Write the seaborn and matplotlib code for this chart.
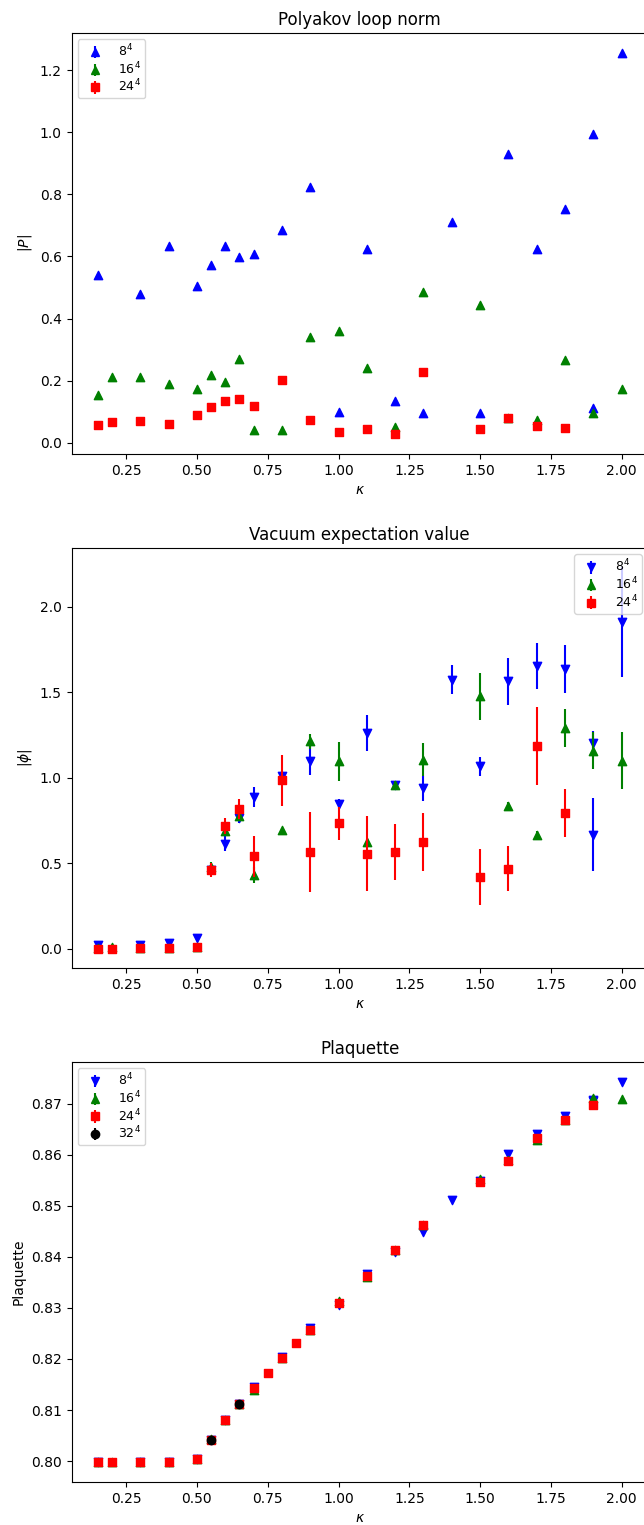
import numpy as np
import pandas as pd
import matplotlib
matplotlib.use("Agg")
import matplotlib.pyplot as plt
import seaborn as sns
from matplotlib.container import ErrorbarContainer
from matplotlib.lines import Line2D
from matplotlib.collections import LineCollection

# ---- hopping parameter grids per lattice size ----
kappa_8 = [0.15, 0.3, 0.4, 0.5, 0.55, 0.6, 0.65, 0.7, 0.8, 0.9, 1.0, 1.1,
           1.2, 1.3, 1.4, 1.5, 1.6, 1.7, 1.8, 1.9, 1.9, 2.0]
kappa_16 = [0.15, 0.2, 0.3, 0.4, 0.5, 0.55, 0.6, 0.65, 0.7, 0.8, 0.9, 1.0,
            1.1, 1.2, 1.3, 1.5, 1.6, 1.7, 1.8, 1.9, 2.0]
kappa_24 = [0.15, 0.2, 0.3, 0.4, 0.5, 0.55, 0.6, 0.65, 0.7, 0.8, 0.9, 1.0,
            1.1, 1.2, 1.3, 1.5, 1.6, 1.7, 1.8]
kappa_24_plaq = [0.15, 0.2, 0.3, 0.4, 0.5, 0.55, 0.6, 0.65, 0.7, 0.75, 0.8,
                 0.85, 0.9, 1.0, 1.1, 1.2, 1.3, 1.5, 1.6, 1.7, 1.8, 1.9]
kappa_32 = [0.55, 0.65]

# ---- Polyakov loop norm |P| ----
poly_8 = [0.540, 0.480, 0.633, 0.504, 0.574, 0.633, 0.598, 0.607, 0.686, 0.824,
          0.099, 0.624, 0.134, 0.097, 0.710, 0.094, 0.932, 0.623, 0.753, 0.994,
          0.110, 1.255]
poly_8_err = [0.004] * len(poly_8)
poly_16 = [0.153, 0.211, 0.211, 0.190, 0.172, 0.217, 0.196, 0.268, 0.040, 0.040,
           0.339, 0.359, 0.241, 0.051, 0.484, 0.443, 0.079, 0.072, 0.265, 0.097,
           0.172]
poly_16_err = [0.004] * len(poly_16)
poly_24 = [0.056, 0.067, 0.069, 0.060, 0.088, 0.116, 0.135, 0.141, 0.118, 0.202,
           0.072, 0.034, 0.043, 0.029, 0.228, 0.043, 0.080, 0.054, 0.048]
poly_24_err = [0.004] * len(poly_24)

# ---- vacuum expectation value |phi| ----
vev_8 = [0.020, 0.020, 0.035, 0.065, 0.458, 0.614, 0.764, 0.887, 1.008, 1.099,
         0.846, 1.261, 0.959, 0.937, 1.573, 1.066, 1.563, 1.651, 1.635, 1.203,
         0.667, 1.910]
vev_8_err = [0.005, 0.005, 0.005, 0.008, 0.030, 0.046, 0.030, 0.058, 0.030, 0.086,
             0.030, 0.104, 0.020, 0.073, 0.083, 0.057, 0.136, 0.133, 0.140, 0.070,
             0.211, 0.320]
vev_16 = [0.005, 0.008, 0.005, 0.005, 0.008, 0.475, 0.686, 0.774, 0.430, 0.696,
          1.212, 1.094, 0.622, 0.959, 1.105, 1.475, 0.836, 0.667, 1.290, 1.158,
          1.099]
vev_16_err = [0.003, 0.003, 0.003, 0.003, 0.003, 0.030, 0.020, 0.020, 0.045, 0.010,
              0.045, 0.115, 0.020, 0.020, 0.097, 0.136, 0.020, 0.020, 0.112, 0.107,
              0.167]
vev_24 = [0.000, 0.000, 0.002, 0.003, 0.012, 0.460, 0.719, 0.817, 0.540, 0.984,
          0.565, 0.733, 0.554, 0.563, 0.624, 0.419, 0.468, 1.183, 0.793]
vev_24_err = [0.002, 0.002, 0.002, 0.003, 0.005, 0.040, 0.047, 0.060, 0.120, 0.150,
              0.234, 0.095, 0.219, 0.164, 0.168, 0.165, 0.132, 0.229, 0.138]

# ---- average plaquette ----
plaq_8 = [0.79975, 0.79978, 0.79975, 0.80040, 0.80410, 0.80810, 0.81110, 0.81460,
          0.82030, 0.82600, 0.83060, 0.83660, 0.84090, 0.84490, 0.85110, 0.85490,
          0.86010, 0.86400, 0.86750, 0.87070, 0.87060, 0.87430]
plaq_16 = [0.79976, 0.79976, 0.79976, 0.79987, 0.80040, 0.80430, 0.80800, 0.81120,
           0.81400, 0.82010, 0.82570, 0.83130, 0.83600, 0.84140, 0.84630, 0.85520,
           0.85890, 0.86280, 0.86680, 0.87110, 0.87080]
plaq_24 = [0.79975, 0.79975, 0.79975, 0.79987, 0.80040, 0.80420, 0.80800, 0.81120,
           0.81428, 0.81727, 0.82014, 0.82308, 0.82575, 0.83100, 0.83622, 0.84130,
           0.84620, 0.85470, 0.85880, 0.86320, 0.86670, 0.86980]
plaq_32 = [0.80420, 0.81120]
plaq_err = 0.0001

labels = ["$8^4$", "$16^4$", "$24^4$", "$32^4$"]
colors = ["blue", "green", "red", "black"]


def frame(kappa, value, err, label):
    return pd.DataFrame({"kappa": kappa, "value": value,
                         "err": np.broadcast_to(err, len(kappa)), "lattice": label})


def legend_proxy(marker, color):
    line = Line2D([], [], linestyle="none", marker=marker, color=color,
                  markersize=6)
    bars = LineCollection([], colors=color, linewidths=1.5)
    return ErrorbarContainer((line, (), (bars,)), has_xerr=False, has_yerr=True)


def draw_panel(ax, series, title, ylabel, legend_loc):
    handles = []
    for i, (df, marker, color) in enumerate(series):
        ax.errorbar(df["kappa"], df["value"], yerr=df["err"], fmt="none",
                    ecolor=color, elinewidth=1.5, zorder=2 + 2 * i)
        sns.scatterplot(data=df, x="kappa", y="value", marker=marker,
                        color=color, edgecolor=color, linewidth=1.0, s=36,
                        ax=ax, legend=False, zorder=3 + 2 * i)
        handles.append(legend_proxy(marker, color))
    ax.set_title(title, fontsize=12)
    ax.set_xlabel(r"$\kappa$")
    ax.set_ylabel(ylabel)
    ax.legend(handles, [df["lattice"].iloc[0] for df, _, _ in series],
              loc=legend_loc, fontsize=9, labelspacing=0.08,
              handlelength=2.1, handletextpad=0.85, borderpad=0.3)


fig = plt.figure(figsize=(6.44, 15.25), dpi=100)
left, width = 71.5 / 644, 576.5 / 644
ax1 = fig.add_axes([left, 0.7023, width, 0.2761])
ax2 = fig.add_axes([left, 0.3652, width, 0.2754])
ax3 = fig.add_axes([left, 0.0282, width, 0.2754])

draw_panel(ax1, [
    (frame(kappa_8, poly_8, poly_8_err, labels[0]), "^", colors[0]),
    (frame(kappa_16, poly_16, poly_16_err, labels[1]), "^", colors[1]),
    (frame(kappa_24, poly_24, poly_24_err, labels[2]), "s", colors[2]),
], "Polyakov loop norm", "$|P|$", "upper left")

draw_panel(ax2, [
    (frame(kappa_8, vev_8, vev_8_err, labels[0]), "v", colors[0]),
    (frame(kappa_16, vev_16, vev_16_err, labels[1]), "^", colors[1]),
    (frame(kappa_24, vev_24, vev_24_err, labels[2]), "s", colors[2]),
], "Vacuum expectation value", r"$|\phi|$", "upper right")

draw_panel(ax3, [
    (frame(kappa_8, plaq_8, plaq_err, labels[0]), "v", colors[0]),
    (frame(kappa_16, plaq_16, plaq_err, labels[1]), "^", colors[1]),
    (frame(kappa_24_plaq, plaq_24, plaq_err, labels[2]), "s", colors[2]),
    (frame(kappa_32, plaq_32, plaq_err, labels[3]), "o", colors[3]),
], "Plaquette", "Plaquette", "upper left")

fig.savefig("out.png", dpi=100)
